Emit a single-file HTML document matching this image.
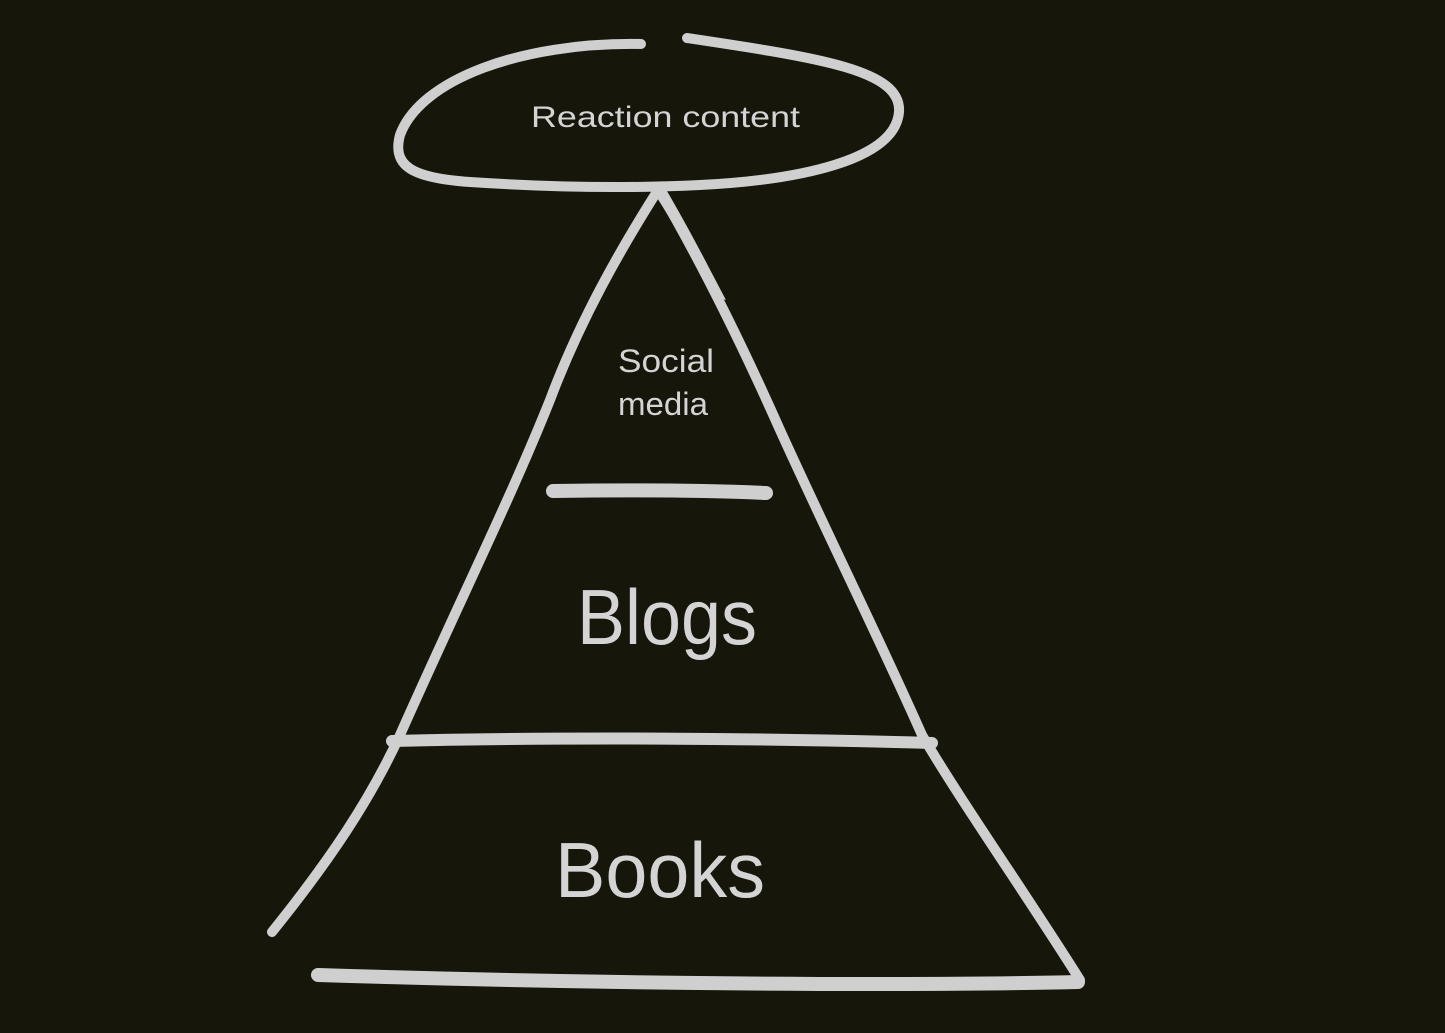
<!DOCTYPE html>
<html><head><meta charset="utf-8"><style>
html,body{margin:0;padding:0;background:#16160a;}
svg{display:block}
text{font-family:"Liberation Sans",sans-serif;fill:#d4d4d4;}
</style></head><body>
<svg width="1445" height="1033" viewBox="0 0 1445 1033" xmlns="http://www.w3.org/2000/svg">
<rect width="1445" height="1033" fill="#16160a"/>
<g fill="none" stroke="#cfcfcf" stroke-linecap="round" stroke-linejoin="round">
<path d="M641 44 C520 42 420 80 400 135 C392 165 410 178 470 182 C560 188 640 188 700 185 C800 180 895 160 899 112 C902 70 820 58 687 38" stroke-width="10"/>
<path d="M658 190 C620 250 580 320 550 400 C510 500 460 600 400 735 C370 800 330 860 272 932" stroke-width="10"/>
<path d="M658 188 C700 260 740 340 780 430 C830 540 880 640 922 735 C960 800 1030 900 1080 980" stroke-width="10"/>
<path d="M1078 982 C900 986 600 984 318 975" stroke-width="14"/>
<path d="M553 491 C620 490 700 490 766 493" stroke-width="14"/>
<path d="M392 741 C560 737 760 738 932 743" stroke-width="12"/>
</g>
<path d="M652 190 L664 186 C690 230 710 270 726 300 L712 296 C695 262 675 225 652 190 Z" fill="#cfcfcf"/>
<text x="531" y="127" font-size="30" textLength="269" lengthAdjust="spacingAndGlyphs">Reaction content</text>
<text x="618" y="372" font-size="32" textLength="96" lengthAdjust="spacingAndGlyphs">Social</text>
<text x="618" y="415" font-size="32" textLength="90" lengthAdjust="spacingAndGlyphs">media</text>
<text x="577" y="644" font-size="78" textLength="180" lengthAdjust="spacingAndGlyphs">Blogs</text>
<text x="555" y="897" font-size="78" textLength="210" lengthAdjust="spacingAndGlyphs">Books</text>
</svg>
</body></html>
